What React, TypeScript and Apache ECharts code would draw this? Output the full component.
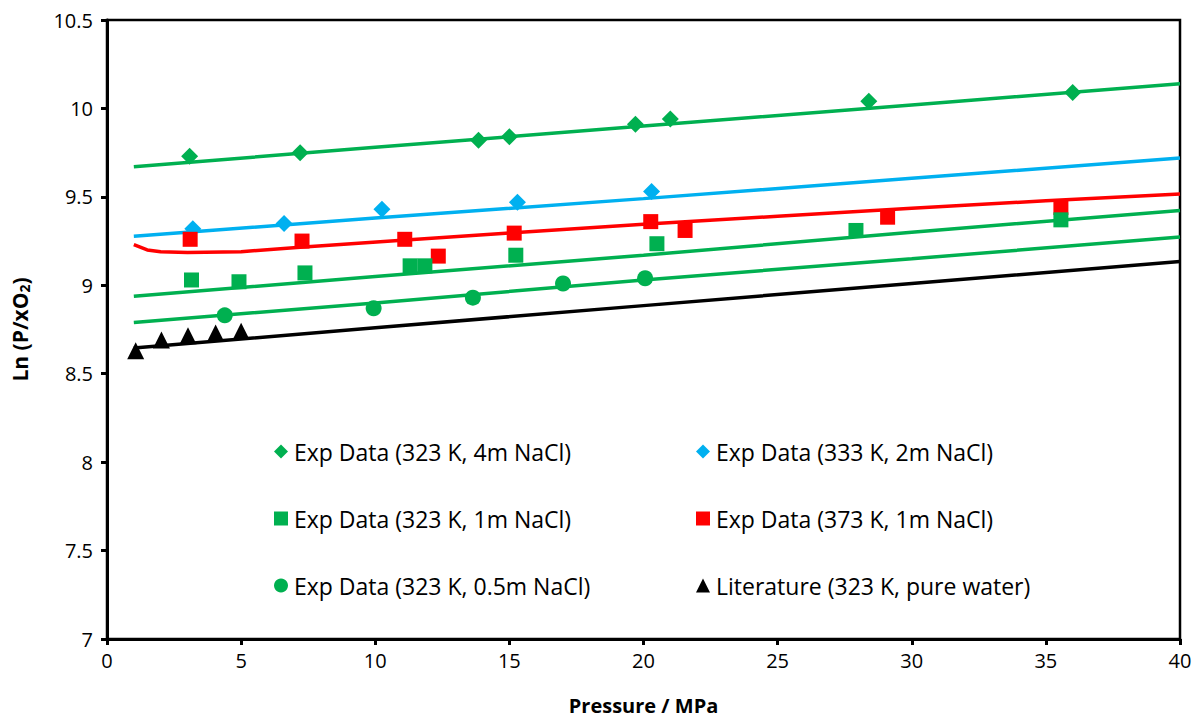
import * as echarts from 'echarts';
import { useEffect, useRef } from 'react';

const GREEN = '#00B050';
const BLUE = '#00B0F0';
const RED = '#FF0000';
const BLACK = '#000000';

// experimental points [pressure MPa, ln(P/xO2)]
const exp323_4m = [
  [3.08, 9.73], [7.2, 9.75], [13.85, 9.82], [15.0, 9.84],
  [19.7, 9.91], [21.0, 9.94], [28.4, 10.04], [36.0, 10.09],
];
const exp333_2m = [
  [3.2, 9.32], [6.6, 9.35], [10.25, 9.43], [15.3, 9.47], [20.3, 9.53],
];
const exp323_1m = [
  [3.15, 9.03], [4.92, 9.02], [7.38, 9.07], [11.3, 9.11], [11.85, 9.11],
  [15.24, 9.17], [20.5, 9.235], [27.92, 9.31], [35.56, 9.37],
];
const exp373_1m = [
  [3.1, 9.26], [7.27, 9.25], [11.1, 9.26], [12.35, 9.165], [15.18, 9.295],
  [20.27, 9.36], [21.55, 9.31], [29.1, 9.385], [35.56, 9.44],
];
const exp323_05m = [
  [4.39, 8.83], [9.94, 8.87], [13.64, 8.93], [17.0, 9.01], [20.06, 9.04],
];
const lit323_water = [
  [1.07, 8.63], [2.03, 8.69], [3.02, 8.715], [4.05, 8.73], [5.0, 8.74],
];

// model curves
const model323_4m = [[1, 9.67], [10, 9.78], [20, 9.9], [30, 10.02], [40, 10.14]];
const model333_2m = [[1, 9.277], [10, 9.38], [20, 9.49], [30, 9.605], [40, 9.72]];
const model373_1m = [
  [1, 9.23], [1.5, 9.2], [2, 9.19], [3, 9.185], [5, 9.19], [7.2, 9.215],
  [11, 9.255], [15, 9.295], [20, 9.345], [25, 9.39], [30, 9.435], [35, 9.478], [40, 9.516],
];
const model323_1m = [[1, 8.938], [10, 9.05], [20, 9.17], [30, 9.3], [40, 9.423]];
const model323_05m = [[1, 8.79], [10, 8.9], [20, 9.03], [30, 9.15], [40, 9.273]];
const model323_water = [[1, 8.645], [10, 8.76], [20, 8.885], [30, 9.01], [40, 9.135]];

const legendLeft = [
  'Exp Data (323 K, 4m NaCl)',
  'Exp Data (323 K, 1m NaCl)',
  'Exp Data (323 K, 0.5m NaCl)',
];
const legendRight = [
  'Exp Data (333 K, 2m NaCl)',
  'Exp Data (373 K, 1m NaCl)',
  'Literature (323 K, pure water)',
];

const FONT = '"Open Sans", Lato, sans-serif';

function line(name: string, data: number[][], color: string) {
  return {
    type: 'line',
    name,
    data,
    showSymbol: false,
    symbol: 'none',
    lineStyle: { color, width: 3.5 },
    itemStyle: { color },
    z: 2,
  };
}

function scatter(name: string, data: number[][], color: string, symbol: string, size: number) {
  return {
    type: 'scatter',
    name,
    data,
    symbol,
    symbolSize: size,
    itemStyle: { color, opacity: 1 },
    z: 3,
  };
}

export default function App() {
  const ref = useRef<HTMLDivElement | null>(null);

  useEffect(() => {
    document.body.style.margin = '0';
    if (!ref.current) return undefined;
    const chart = echarts.init(ref.current, undefined, { renderer: 'svg' });

    const legendBase = {
      orient: 'vertical',
      top: 435,
      itemGap: 44,
      itemWidth: 14,
      itemHeight: 14,
      textStyle: { fontFamily: FONT, fontSize: 23, color: '#000', padding: [0, 0, 0, 1] },
      selectedMode: false,
    };

    chart.setOption({
      animation: false,
      backgroundColor: '#fff',
      textStyle: { fontFamily: FONT },
      grid: {
        left: 107,
        right: 20,
        top: 20,
        bottom: 80,
        show: true,
        borderColor: '#000',
        borderWidth: 2.5,
        backgroundColor: 'transparent',
      },
      legend: [
        { ...legendBase, left: 269, data: legendLeft },
        { ...legendBase, left: 691, data: legendRight },
      ],
      xAxis: {
        type: 'value',
        min: 0,
        max: 40,
        interval: 5,
        name: 'Pressure / MPa',
        nameLocation: 'middle',
        nameGap: 56,
        nameTextStyle: { fontFamily: FONT, fontSize: 20, fontWeight: 'bold', color: '#000' },
        axisLine: { show: true, lineStyle: { color: '#000', width: 3 } },
        axisTick: { show: true, inside: false, length: 6, lineStyle: { color: '#000', width: 3 } },
        axisLabel: { fontFamily: FONT, fontSize: 20, color: '#000', margin: 11 },
        splitLine: { show: false },
      },
      yAxis: {
        type: 'value',
        min: 7,
        max: 10.5,
        interval: 0.5,
        name: 'Ln (P/xO{sub|2})',
        nameLocation: 'middle',
        nameGap: 76,
        nameTextStyle: {
          fontFamily: FONT,
          fontSize: 21,
          fontWeight: 'bold',
          color: '#000',
          rich: {
            sub: { fontFamily: FONT, fontSize: 14, fontWeight: 'bold', color: '#000', verticalAlign: 'bottom', padding: [8, 0, 0, 0] },
          },
        },
        axisLine: { show: true, lineStyle: { color: '#000', width: 3 } },
        axisTick: { show: true, inside: false, length: 6, lineStyle: { color: '#000', width: 3 } },
        axisLabel: { fontFamily: FONT, fontSize: 20, color: '#000', margin: 14 },
        splitLine: { show: false },
      },
      series: [
        line('model 323 K 4m', model323_4m, GREEN),
        line('model 333 K 2m', model333_2m, BLUE),
        line('model 373 K 1m', model373_1m, RED),
        line('model 323 K 1m', model323_1m, GREEN),
        line('model 323 K 0.5m', model323_05m, GREEN),
        line('model 323 K water', model323_water, BLACK),
        scatter(legendLeft[0], exp323_4m, GREEN, 'diamond', 17),
        scatter(legendRight[0], exp333_2m, BLUE, 'diamond', 17),
        scatter(legendRight[1], exp373_1m, RED, 'rect', 15),
        scatter(legendLeft[1], exp323_1m, GREEN, 'rect', 15),
        scatter(legendLeft[2], exp323_05m, GREEN, 'circle', 16),
        scatter(legendRight[2], lit323_water, BLACK, 'triangle', 17),
      ],
    });

    return () => {
      chart.dispose();
    };
  }, []);

  return <div ref={ref} style={{ width: 1200, height: 720 }} />;
}
